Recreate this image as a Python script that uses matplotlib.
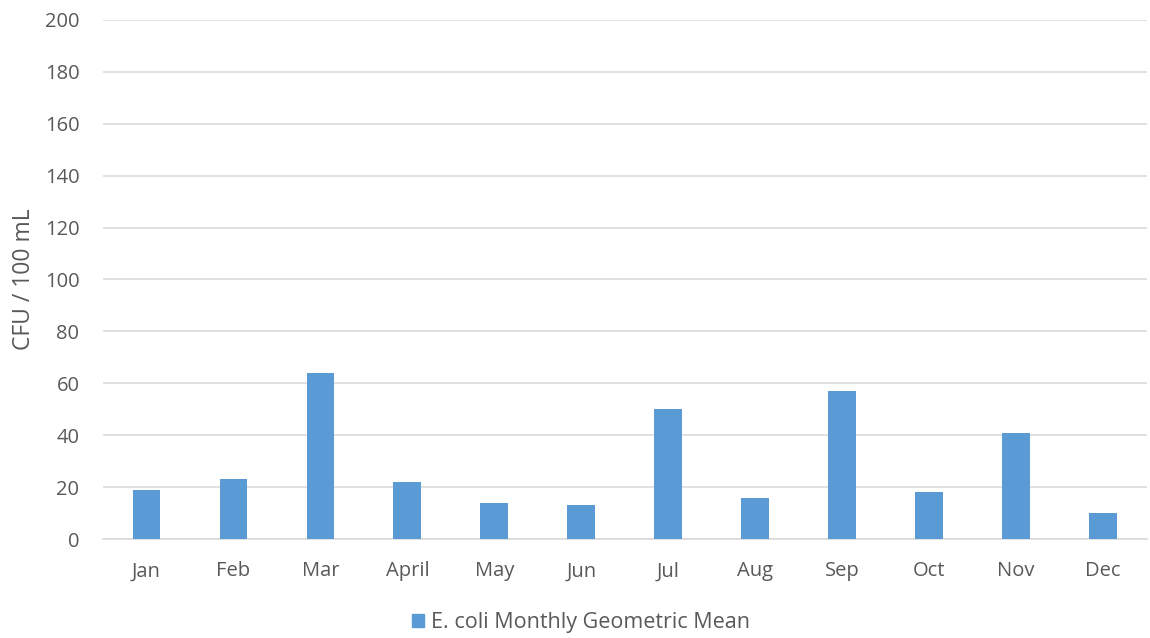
import numpy as np
import matplotlib
matplotlib.use('Agg')
import matplotlib.pyplot as plt
from matplotlib.patches import Patch

months = ['Jan', 'Feb', 'Mar', 'April', 'May', 'Jun',
          'Jul', 'Aug', 'Sep', 'Oct', 'Nov', 'Dec']
geo_mean = [19, 23, 64, 22, 14, 13, 50, 16, 57, 18, 41, 10]
yticks = [0, 20, 40, 60, 80, 100, 120, 140, 160, 180, 200]

plt.rcParams['font.family'] = ['Open Sans', 'DejaVu Sans']
txt = '#595959'
grid = '#d9d9d9'
bar_col = '#5b9bd5'

fig = plt.figure(figsize=(11.5, 6.38), dpi=100)
ax = fig.add_axes([0.0896, 0.155, 0.9074, 0.814])

x = np.arange(len(months))
ax.bar(x, geo_mean, width=0.32, color=bar_col, zorder=3)

ax.set_xlim(-0.5, len(months) - 0.5)
ax.set_ylim(0, 200)
ax.set_yticks(yticks)
ax.set_xticks(x)
ax.set_xticklabels(months)
ax.yaxis.grid(True, color=grid, linewidth=1.1, zorder=0)

for s in ['top', 'right', 'left']:
    ax.spines[s].set_visible(False)
ax.spines['bottom'].set_color(grid)
ax.spines['bottom'].set_linewidth(1.1)
ax.tick_params(axis='both', length=0, colors=txt, labelsize=14.5)
ax.tick_params(axis='y', pad=17)
ax.tick_params(axis='x', pad=16)

ax.set_ylabel('CFU / 100 mL', color=txt, fontsize=16.5, labelpad=6)

handles = [Patch(color=bar_col, label='E. coli Monthly Geometric Mean')]
fig.legend(handles=handles, loc='center', bbox_to_anchor=(0.505, 0.024),
           frameon=False, fontsize=15.5, labelcolor=txt,
           handlelength=0.6, handleheight=0.6, handletextpad=0.3)

fig.savefig('out.png', dpi=100)
